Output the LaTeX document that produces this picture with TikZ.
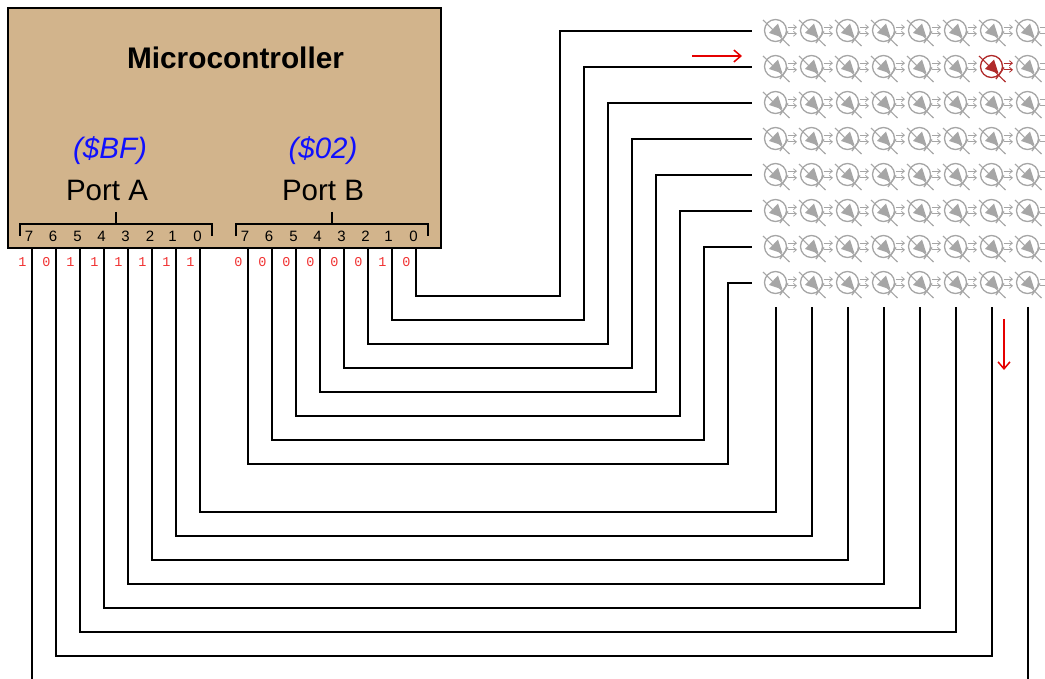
\documentclass[tikz,border=0pt]{standalone}
\usepackage{fontspec}
\setmainfont{Liberation Sans}
\newfontfamily\monof{Liberation Mono}
\usetikzlibrary{arrows.meta}
\definecolor{boxtan}{HTML}{D2B48C}
\definecolor{ledgray}{HTML}{A6A6A6}
\definecolor{ledred}{HTML}{B02A2A}
\definecolor{portblue}{HTML}{1010FF}
\definecolor{bitred}{HTML}{F03030}
\tikzset{
  wire/.style={line width=2pt,black,line cap=butt,line join=miter},
  mcubox/.style={draw=black,line width=2pt,fill=boxtan,outer sep=0pt},
  pinnum/.style={font=\fontsize{15}{16}\selectfont,inner sep=0pt,anchor=base},
  bitval/.style={font=\monof\fontsize{13.5}{14}\selectfont,text=bitred,inner sep=0pt,anchor=base},
  portname/.style={font=\fontsize{29.5}{32}\selectfont,inner sep=0pt},
  portval/.style={font=\itshape\fontsize{29.5}{32}\selectfont,text=portblue,inner sep=0pt},
  flow/.style={line width=1.5pt,color=red!90!black,-{Straight Barb[length=7pt,width=12pt,line width=1.5pt]}},
  pics/ledcell/.style={code={
    \begin{scope}[draw=#1,line width=1.3pt]
      \draw (0,0) circle[radius=11];
      \draw[line width=1.1pt] (-12.5,-10.5) -- (14,15.5);
      \fill[#1] (-6.5,2.5) -- (2.5,-7) -- (7,7) -- cycle;
      \draw (12.5,1) -- (4.5,12.5);
      \begin{scope}[line width=0.9pt,-{Straight Barb[length=3pt,width=5pt,line width=0.8pt]}]
        \draw (12,-3.3) -- (21.5,-3.3);
        \draw (12,3.3) -- (21.5,3.3);
      \end{scope}
    \end{scope}
  }}
}
\begin{document}
\begin{tikzpicture}[x=1pt,y=-1pt]
\useasboundingbox (0,0) rectangle (1045,679);
% microcontroller
\node[mcubox,minimum width=433pt,minimum height=240pt,inner sep=0pt,anchor=north west] (mcu) at (8,8) {};
\node[inner sep=0pt,font=\bfseries\fontsize{29.8}{32}\selectfont] (title) at (235.5,58) {Microcontroller};
\node[portval] (valA) at (110,151) {(\$BF)};
\node[portval] (valB) at (323,151) {(\$02)};
\node[portname] (nameA) at (107,190) {Port A};
\node[portname] (nameB) at (323,190) {Port B};
% port brackets
\coordinate (brAl) at (20,236); \coordinate (brAr) at (212,236); \coordinate (stemA) at (116,212); \coordinate (stemAb) at (116,224);
\coordinate (brBl) at (236,236); \coordinate (brBr) at (428,236); \coordinate (stemB) at (332,212); \coordinate (stemBb) at (332,224);
\draw[wire] (brAl) |- (stemAb) -| (brAr);
\draw[wire] (stemA) -- (stemAb);
\draw[wire] (brBl) |- (stemBb) -| (brBr);
\draw[wire] (stemB) -- (stemBb);
% pin numbers and values
\foreach \n/\xp in {7/29,6/53,5/77.5,4/101.5,3/125.5,2/150,1/172.5,0/197.5}
  \node[pinnum] (numA\n) at (\xp,242) {\n};
\foreach \n/\xp in {7/245,6/269,5/293.5,4/317.5,3/341.5,2/365.5,1/388.5,0/413.5}
  \node[pinnum] (numB\n) at (\xp,242) {\n};
\foreach \n/\xp/\v in {7/22.5/1,6/46.5/0,5/70.5/1,4/94.5/1,3/118.5/1,2/142.5/1,1/166.5/1,0/190.5/1}
  \node[bitval] (bitA\n) at (\xp,266.5) {\v};
\foreach \n/\xp/\v in {7/238.5/0,6/262.5/0,5/286.5/0,4/310.5/0,3/334.5/0,2/358.5/0,1/382.5/1,0/406.5/0}
  \node[bitval] (bitB\n) at (\xp,266.5) {\v};
% LED matrix
\foreach \r in {0,...,7}
  \foreach \c in {0,...,7} {
    \pgfmathsetmacro{\lx}{775.5+36*\c}
    \pgfmathsetmacro{\ly}{30.5+36*\r}
    \ifnum\r=1 \ifnum\c=6
      \pic at (\lx,\ly) {ledcell=ledred};
    \else
      \pic at (\lx,\ly) {ledcell=ledgray};
    \fi\else
      \pic at (\lx,\ly) {ledcell=ledgray};
    \fi
  }
% port B wires to rows
\foreach \i in {0,...,7} {
  \pgfmathsetmacro{\px}{416-24*\i}
  \pgfmathsetmacro{\ty}{296+24*\i}
  \pgfmathsetmacro{\tx}{560+24*\i}
  \pgfmathsetmacro{\ry}{31+36*\i}
  \coordinate (pinB\i) at (\px,248);
  \coordinate (turnB\i) at (\tx,\ty);
  \coordinate (rowin\i) at (752,\ry);
  \draw[wire] (pinB\i) |- (turnB\i) |- (rowin\i);
}
% port A wires to columns
\foreach \i in {0,...,6} {
  \pgfmathsetmacro{\px}{200-24*\i}
  \pgfmathsetmacro{\ty}{512+24*\i}
  \pgfmathsetmacro{\cx}{776+36*\i}
  \coordinate (pinA\i) at (\px,248);
  \coordinate (turnA\i) at (\cx,\ty);
  \coordinate (colin\i) at (\cx,307);
  \draw[wire] (pinA\i) |- (turnA\i) -- (colin\i);
}
\coordinate (pinA7) at (32,248);
\coordinate (exitA7) at (32,679);
\draw[wire] (pinA7) -- (exitA7);
\coordinate (colin7) at (1028,307);
\coordinate (exitC7) at (1028,679);
\draw[wire] (colin7) -- (exitC7);
% scan direction arrows
\coordinate (flowRa) at (692,56); \coordinate (flowRb) at (742,56);
\coordinate (flowDa) at (1004,319); \coordinate (flowDb) at (1004,370);
\draw[flow] (flowRa) -- (flowRb);
\draw[flow] (flowDa) -- (flowDb);
\end{tikzpicture}
\end{document}
